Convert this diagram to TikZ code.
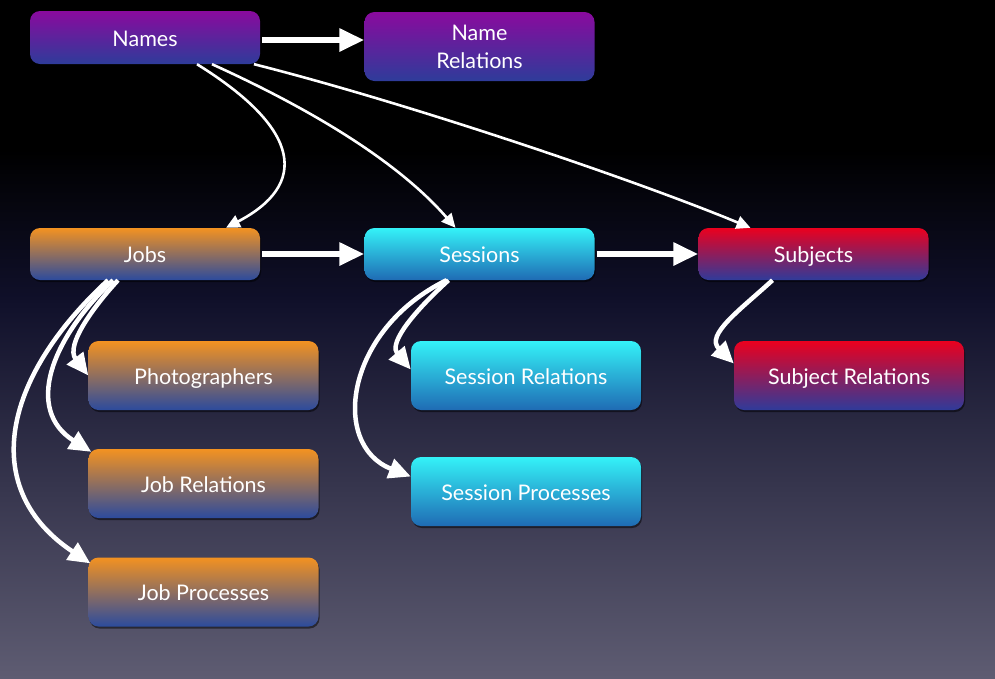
\documentclass[tikz,border=0pt]{standalone}
\usepackage{fontspec}
\setmainfont{Lato}
\usetikzlibrary{arrows.meta,shadows}
\definecolor{namestop}{HTML}{8A0A9E}
\definecolor{namesbot}{HTML}{2E3C9A}
\definecolor{jobstop}{HTML}{F39221}
\definecolor{jobsbot}{HTML}{2C4B9D}
\definecolor{sesstop}{HTML}{34F2F8}
\definecolor{sessbot}{HTML}{1F6BB4}
\definecolor{subjtop}{HTML}{EB001E}
\definecolor{subjbot}{HTML}{2F3B9A}
\definecolor{bgmid}{HTML}{10102A}
\definecolor{bgbot}{HTML}{5E5C72}
\begin{document}
\begin{tikzpicture}[x=1pt,y=-1pt,
  box/.style={rounded corners=10pt, minimum width=230pt, text=white,
    font=\fontsize{21.5}{28}\selectfont, align=center, inner sep=0pt,
    drop shadow={fill=black, opacity=0.5, shadow xshift=1pt, shadow yshift=-2pt}},
  oneline/.style={text height=17pt, text depth=0pt},
  namesbox/.style={box, top color=namestop, bottom color=namesbot},
  jobsbox/.style={box, top color=jobstop, bottom color=jobsbot},
  sessbox/.style={box, top color=sesstop, bottom color=sessbot},
  subjbox/.style={box, top color=subjtop, bottom color=subjbot},
  bigarrow/.style={white, line width=6pt, shorten <=2pt, -{Triangle[length=25pt,width=22pt]}},
  medarrow/.style={white, line width=4.5pt, -{Triangle[length=22pt,width=20pt]}},
  thinarrow/.style={white, line width=2.6pt, -{Triangle[length=14pt,width=13pt]}}
]
\useasboundingbox (0,0) rectangle (995,678);
\fill[black] (0,0) rectangle (995,151);
\shade[top color=black, bottom color=bgmid] (0,150) rectangle (995,301);
\shade[top color=bgmid, bottom color=bgbot] (0,300) rectangle (995,678);

\node[namesbox, oneline, minimum height=53pt] (names) at (145,37.5) {Names};
\node[namesbox, minimum height=69pt] (namerel) at (479.5,46.5) {Name\\Relations};
\node[jobsbox, oneline, minimum height=52pt] (jobs) at (145,254) {Jobs};
\node[sessbox, oneline, minimum height=52pt] (sessions) at (479.5,254) {Sessions};
\node[subjbox, oneline, minimum height=52pt] (subjects) at (813.5,254) {Subjects};
\node[jobsbox, oneline, minimum height=69pt] (photo) at (203.5,375.5) {Photographers};
\node[jobsbox, oneline, minimum height=69pt] (jobrel) at (203.5,483.5) {Job Relations};
\node[jobsbox, oneline, minimum height=69pt] (jobproc) at (203.5,592) {Job Processes};
\node[sessbox, oneline, minimum height=69pt] (sessrel) at (526,375.5) {Session Relations};
\node[sessbox, oneline, minimum height=69pt] (sessproc) at (526,491.5) {Session Processes};
\node[subjbox, oneline, minimum height=69pt] (subjrel) at (849,375.5) {Subject Relations};

% thick straight arrows
\coordinate (a1) at ([yshift=-2.5pt]names.east);
\draw[bigarrow] (a1) -- (a1 -| namerel.west);
\draw[bigarrow] (jobs.east) -- (sessions.west);
\draw[bigarrow] (sessions.east) -- (subjects.west);

% thin arrows from Names
\draw[thinarrow] ([xshift=52pt]names.south) .. controls (303,130) and (308,185) .. ([xshift=81pt]jobs.north);
\draw[thinarrow] ([xshift=67pt]names.south) .. controls (302,105) and (395,158) .. ([xshift=-24pt]sessions.north);
\draw[thinarrow] ([xshift=109pt]names.south) .. controls (404,102) and (630,178) .. ([xshift=-63pt]subjects.north);

% arrows from Jobs
\draw[medarrow] ([xshift=-27pt]jobs.south) .. controls (95,305) and (65,345) .. (photo.west);
\draw[medarrow] ([xshift=-32pt]jobs.south) .. controls (50,340) and (25,410) .. ([xshift=3pt,yshift=-3pt]jobrel.north west);
\draw[medarrow] ([xshift=-37pt]jobs.south) .. controls (0,380) and (-20,490) .. ([xshift=2pt,yshift=-6pt]jobproc.north west);

% arrows from Sessions
\draw[medarrow] ([xshift=-31pt]sessions.south) .. controls (405,320) and (390,345) .. ([yshift=6pt]sessrel.west);
\draw[medarrow] ([xshift=-33pt]sessions.south) .. controls (345,330) and (330,445) .. ([yshift=15pt]sessproc.west);

% arrow from Subjects
\draw[medarrow] ([xshift=-41pt]subjects.south) .. controls (740,310) and (705,335) .. ([yshift=12pt]subjrel.west);
\end{tikzpicture}
\end{document}
